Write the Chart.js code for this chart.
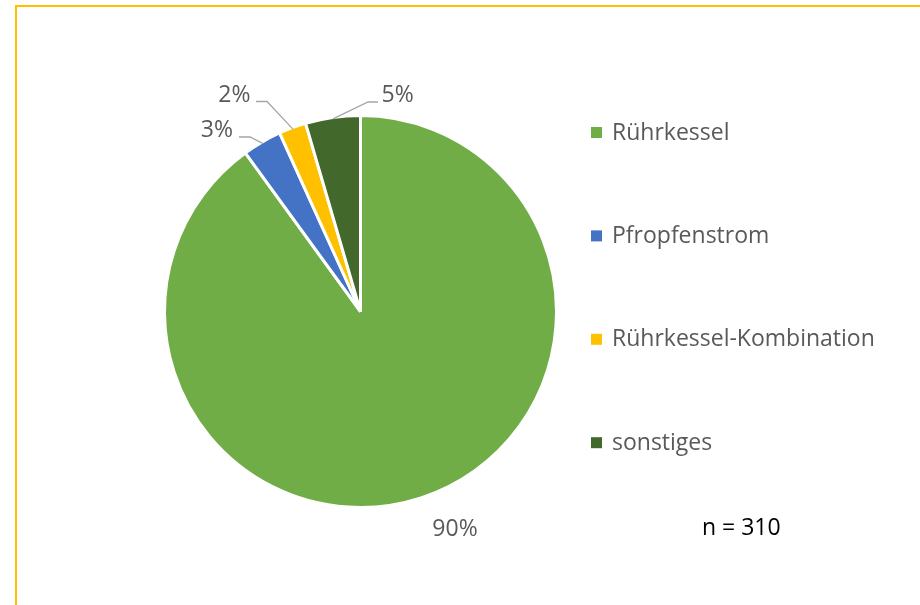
<!DOCTYPE html>
<html>
<head>
<meta charset="utf-8">
<script src="https://cdn.jsdelivr.net/npm/chart.js@4/dist/chart.umd.min.js"></script>
<style>
  html, body { margin: 0; padding: 0; background: #ffffff; }
  #wrap { position: relative; width: 920px; height: 605px; overflow: hidden; background: #fff; }
  #frame { position: absolute; left: 15px; top: 5px; width: 1000px; height: 700px;
           border-left: 2px solid #FFC000; border-top: 2px solid #FFC000; box-sizing: border-box; }
  canvas { position: absolute; left: 0; top: 0; }
</style>
</head>
<body>
<div id="wrap">
  <canvas id="c" width="920" height="605"></canvas>
  <div id="frame"></div>
</div>
<script>
// ---- data ----
const categories = ["Rührkessel", "Pfropfenstrom", "Rührkessel-Kombination", "sonstiges"];
const counts = [279, 10, 7, 14];
const percentLabels = ["90%", "3%", "2%", "5%"];
const sampleNote = "n = 310";
const colors = ["#70AD47", "#4472C4", "#FFC000", "#43682B"];

// ---- layout of labels (relative to pie centre) ----
const labelLayout = [
  { tx: 94.5, ty: 224.5, align: "center", elbow: null, end: null },
  { tx: -127.5, ty: -175, align: "right", elbow: [-110.5, -174.5], end: [-121.5, -174.5] },
  { tx: -110, ty: -210, align: "right", elbow: [-93.5, -210], end: [-104.5, -210] },
  { tx: 21, ty: -209.5, align: "left", elbow: [7.5, -209.5], end: [17.5, -209.5] }
];
const FONT = '23px "Open Sans", "Noto Sans", sans-serif';

const labelPlugin = {
  id: "pieLabels",
  afterDatasetsDraw(chart) {
    const ctx = chart.ctx;
    const meta = chart.getDatasetMeta(0);
    ctx.save();
    meta.data.forEach((arc, i) => {
      const p = arc.getProps(["x", "y", "startAngle", "endAngle", "outerRadius"], true);
      const mid = (p.startAngle + p.endAngle) / 2;
      const r = p.outerRadius - 1.5;
      const L = labelLayout[i];
      if (L.elbow) {
        ctx.beginPath();
        ctx.strokeStyle = "#A6A6A6";
        ctx.lineWidth = 1.3;
        ctx.moveTo(p.x + Math.cos(mid) * r, p.y + Math.sin(mid) * r);
        ctx.lineTo(p.x + L.elbow[0], p.y + L.elbow[1]);
        ctx.lineTo(p.x + L.end[0], p.y + L.end[1]);
        ctx.stroke();
      }
      ctx.fillStyle = "#595959";
      ctx.font = FONT;
      ctx.textAlign = L.align;
      ctx.textBaseline = "alphabetic";
      ctx.fillText(percentLabels[i], p.x + L.tx, p.y + L.ty);
    });
    // n note
    ctx.fillStyle = "#000000";
    ctx.textAlign = "left";
    ctx.fillText(sampleNote, 702, 535);
    ctx.restore();
  }
};

const legendPlugin = {
  id: "sideLegend",
  afterDraw(chart) {
    const ctx = chart.ctx;
    ctx.save();
    ctx.font = FONT;
    ctx.textBaseline = "alphabetic";
    ctx.textAlign = "left";
    const bg = chart.data.datasets[0].backgroundColor;
    chart.data.labels.forEach((lab, i) => {
      const base = 139.5 + i * 103.4;
      ctx.fillStyle = bg[i];
      ctx.fillRect(591, base - 12.5, 11, 11);
      ctx.fillStyle = "#595959";
      ctx.fillText(lab, 612, base);
    });
    ctx.restore();
  }
};

new Chart(document.getElementById("c"), {
  type: "pie",
  data: {
    labels: categories,
    datasets: [{
      data: counts,
      backgroundColor: colors,
      borderColor: "#ffffff",
      borderWidth: 3
    }]
  },
  options: {
    responsive: false,
    animation: false,
    layout: { padding: { left: 163, right: 362, top: 114, bottom: 96 } },
    plugins: {
      legend: { display: false },
      tooltip: { enabled: false }
    }
  },
  plugins: [labelPlugin, legendPlugin]
});
</script>
</body>
</html>
